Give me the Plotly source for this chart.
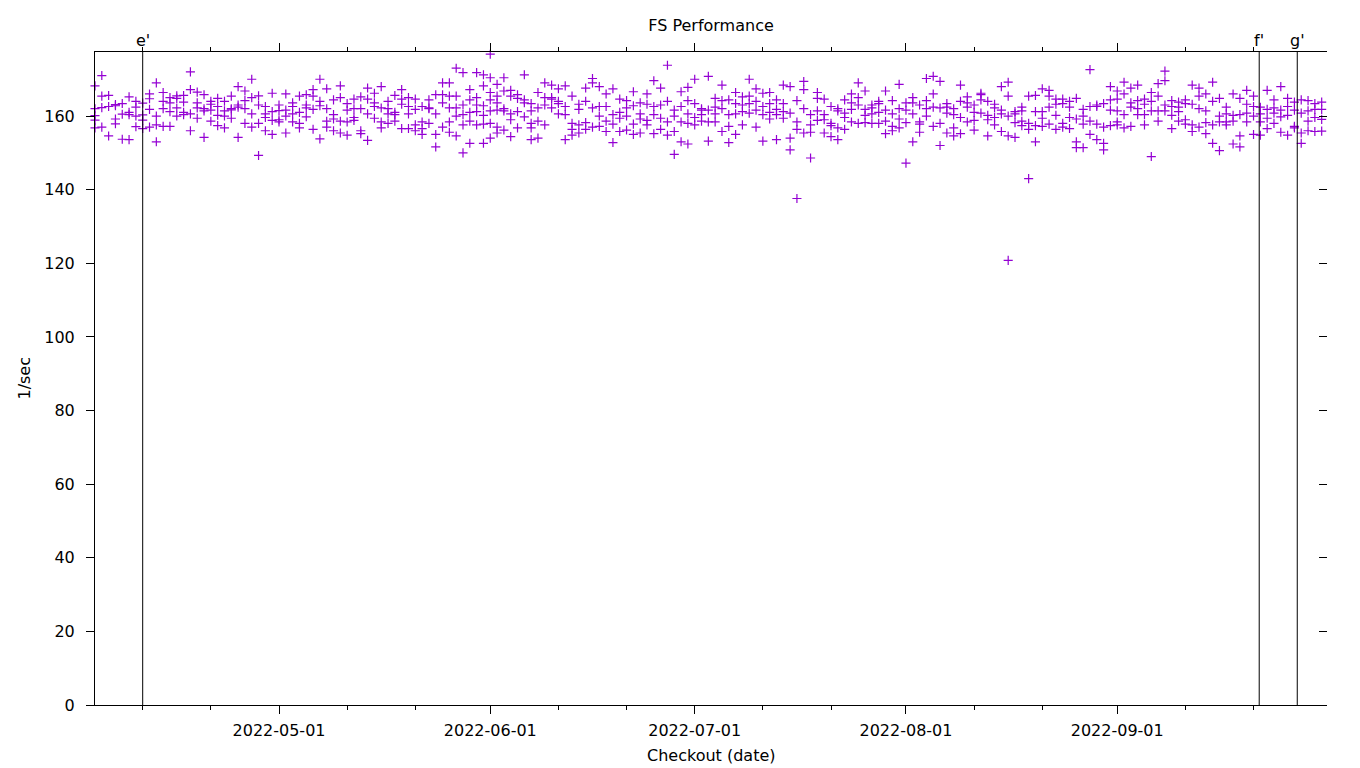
import plotly.graph_objects as go
from datetime import date, timedelta

# ---------------- data (1/sec per checkout, grouped by day) ----------------
first_day = date(2022, 4, 4)

apr = [  # Apr 4 .. Apr 30
    [168.2, 162.0, 160.1, 158.9, 156.8],
    [171.0, 165.4, 162.3, 157.0],
    [165.6, 162.6, 154.6],
    [163.1, 159.2, 157.9, 162.8],
    [163.4, 153.7, 160.5],
    [165.2, 160.4, 153.6, 161.0],
    [162.4, 160.0, 157.1, 164.0],
    [160.3, 156.6, 163.5, 158.9],
    [166.0, 161.8, 157.0, 164.7],
    [169.0, 160.0, 153.0, 157.6],
    [166.4, 164.0, 157.2, 162.0],
    [165.0, 161.2, 157.2, 163.6],
    [164.8, 160.0, 165.5, 162.2],
    [165.6, 160.4, 163.8, 161.0],
    [172.0, 167.2, 160.6, 156.0],
    [166.5, 162.2, 159.4, 163.6],
    [165.8, 162.0, 154.2, 161.4],
    [164.0, 158.6, 163.2, 161.6],
    [164.8, 162.6, 157.4, 160.2],
    [164.0, 161.4, 156.8, 160.0],
    [165.4, 162.0, 161.7, 159.4],
    [168.0, 163.0, 154.2, 162.4],
    [166.8, 164.2, 158.0, 162.0],
    [170.0, 165.0, 160.6, 157.0],
    [165.5, 158.0, 149.3, 163.0],
    [162.6, 156.0, 159.6, 160.6],
    [166.2, 158.8, 155.0, 161.2],
]

may = [
    [161.5, 158.4, 163.0, 159.0],
    [166.0, 161.6, 155.4, 160.0],
    [163.6, 160.6, 158.4, 162.6],
    [165.4, 161.0, 156.8, 158.0],
    [165.8, 163.0, 159.8, 162.2],
    [167.2, 165.4, 161.8, 156.4],
    [170.0, 162.8, 153.8, 164.0],
    [167.4, 162.0, 158.6, 157.0],
    [164.4, 160.4, 156.0, 159.2],
    [168.2, 165.0, 158.6, 155.4],
    [163.4, 161.6, 154.8, 158.4],
    [164.6, 159.6, 158.8, 162.0],
    [165.2, 155.2, 162.0, 156.0],
    [167.6, 164.6, 160.6, 153.4],
    [166.2, 162.6, 159.4, 163.6],
    [168.0, 162.2, 158.4, 156.8],
    [162.0, 158.0, 164.0, 160.6],
    [161.0, 160.4, 165.6, 158.6],
    [167.2, 163.2, 156.6, 164.6],
    [160.6, 156.6, 162.6, 165.0],
    [164.6, 161.8, 157.6, 156.0],
    [162.6, 156.6, 158.4, 155.0],
    [164.4, 162.0, 162.2, 158.0],
    [165.8, 155.0, 151.6, 160.6],
    [169.0, 163.6, 157.0, 165.8],
    [169.0, 162.2, 155.6, 158.4, 165.4],
    [173.0, 165.4, 160.0, 154.6, 162.2],
    [171.8, 163.0, 157.6, 150.0, 160.4],
    [167.2, 164.4, 161.0, 152.6, 158.6],
    [171.8, 165.0, 161.2, 157.6, 163.0],
    [171.2, 168.2, 162.8, 157.8, 152.6, 160.2],
]

jun = [
    [176.8, 170.4, 166.4, 161.4, 158.0, 154.0, 164.4],
    [168.6, 165.4, 161.6, 157.0, 163.6, 155.4],
    [170.4, 166.8, 161.4, 156.2, 162.0],
    [167.0, 160.6, 154.4, 165.4, 159.0],
    [164.8, 161.2, 156.8, 165.8],
    [171.2, 163.6, 159.8, 164.4],
    [163.4, 158.0, 153.6, 161.4, 156.8],
    [166.4, 162.2, 154.0, 158.6],
    [169.0, 165.0, 163.0, 157.6],
    [168.4, 164.6, 162.2, 165.0],
    [167.4, 164.0, 160.6, 163.4],
    [168.2, 160.4, 153.6, 162.6],
    [165.4, 158.0, 154.8, 156.4],
    [163.2, 161.8, 157.6, 155.4],
    [167.6, 164.0, 158.2, 156.4],
    [170.2, 169.0, 162.2, 157.0],
    [168.0, 160.0, 157.2, 162.6],
    [166.0, 162.6, 155.8, 158.6],
    [167.4, 160.4, 152.8, 157.8],
    [164.6, 161.0, 155.8, 159.4],
    [164.2, 160.0, 156.2, 162.2],
    [166.6, 162.8, 155.0, 157.8],
    [163.6, 159.2, 155.4, 160.6],
    [166.0, 163.2, 157.6, 158.8],
    [169.6, 162.6, 155.2, 160.4],
    [167.6, 163.0, 156.4, 159.4],
    [173.8, 164.0, 158.4, 154.8],
    [161.6, 160.0, 155.8, 149.6],
    [166.6, 162.6, 158.4, 153.0],
    [167.8, 164.2, 158.0, 152.4, 160.6],
]

jul = [
    [170.0, 163.4, 159.6, 157.6],
    [162.0, 160.4, 158.6, 161.6],
    [170.8, 161.6, 153.2, 158.4],
    [164.8, 160.6, 158.4, 162.4],
    [164.2, 162.0, 155.8, 168.4],
    [164.4, 160.4, 157.2, 152.8],
    [163.4, 160.6, 155.0, 166.4],
    [165.2, 161.2, 157.6, 163.0],
    [170.0, 165.4, 160.8, 163.4],
    [167.4, 161.6, 157.0, 164.0],
    [160.4, 153.2, 166.2, 162.6],
    [166.4, 163.4, 161.0, 159.2],
    [164.4, 160.4, 153.6, 161.8],
    [168.4, 163.4, 159.4, 161.2],
    [168.0, 160.8, 154.0, 150.8],
    [164.2, 156.4, 137.6, 158.4],
    [169.4, 167.2, 162.0, 155.4],
    [160.4, 155.6, 148.6, 157.6],
    [166.4, 164.8, 158.8, 161.4],
    [164.6, 159.0, 155.4, 160.4],
    [162.6, 157.4, 154.4, 158.0],
    [162.0, 161.4, 153.6, 156.8],
    [164.4, 159.6, 156.4, 160.8],
    [166.0, 163.6, 158.4, 161.8],
    [169.0, 163.0, 158.0, 165.0],
    [166.8, 161.8, 158.2, 160.2],
    [163.0, 162.2, 160.6, 158.0],
    [164.0, 163.4, 158.0, 161.0],
    [166.8, 161.6, 155.2, 158.6],
    [164.2, 160.6, 156.0, 157.2],
    [168.6, 162.0, 156.8, 159.2],
]

aug = [
    [163.6, 158.2, 147.2, 161.6],
    [165.0, 160.6, 153.0, 163.6],
    [163.0, 158.4, 155.6, 157.8],
    [170.2, 164.2, 160.0, 162.0],
    [170.8, 166.0, 157.2, 162.4],
    [169.4, 158.0, 152.0, 162.2],
    [163.4, 160.8, 155.4, 162.4],
    [162.0, 156.8, 154.6, 160.4],
    [168.4, 164.0, 159.6, 155.2],
    [163.6, 162.4, 158.4, 165.2],
    [163.0, 161.0, 156.2, 158.8],
    [166.2, 165.8, 160.8, 164.4],
    [164.0, 159.0, 154.6, 160.2],
    [163.2, 159.6, 157.6, 162.2],
    [168.0, 160.6, 155.8, 161.6],
    [169.2, 165.4, 160.0, 120.8, 154.6],
    [161.2, 158.2, 154.2, 160.6],
    [162.4, 157.4, 161.4, 158.6],
    [165.4, 158.0, 143.0, 156.4],
    [165.6, 161.2, 153.0, 157.4],
    [167.4, 161.2, 157.2, 159.4],
    [167.0, 162.4, 157.8, 165.4],
    [164.6, 160.2, 156.4, 163.2],
    [163.4, 158.0, 157.0, 164.6],
    [164.0, 159.6, 162.4, 156.6],
    [164.8, 159.2, 151.4, 153.0],
    [161.8, 157.8, 151.4, 160.0],
    [172.6, 162.6, 155.0, 158.6],
    [163.0, 157.8, 153.6, 162.6],
    [163.4, 157.0, 150.8, 152.6],
    [168.0, 164.4, 157.4, 161.6],
]

sep = [
    [164.6, 161.4, 157.6, 166.8, 158.4],
    [169.2, 166.0, 160.4, 156.8],
    [167.6, 162.4, 157.2, 163.6],
    [168.4, 164.2, 160.4, 162.0],
    [164.6, 160.4, 163.2, 157.6],
    [166.4, 161.4, 149.0, 164.0],
    [168.8, 165.4, 161.4, 158.6],
    [172.2, 169.6, 163.0, 161.4],
    [164.2, 160.2, 156.6, 162.6],
    [163.8, 161.2, 158.6, 162.4],
    [164.4, 159.0, 157.8, 163.4],
    [168.4, 163.2, 157.6, 155.8],
    [167.6, 165.4, 157.0, 162.0],
    [166.0, 161.4, 155.2, 158.2],
    [169.2, 164.0, 157.6, 152.6],
    [164.8, 160.0, 150.6, 158.4],
    [162.4, 158.4, 157.6, 160.6],
    [166.0, 160.2, 152.4, 158.6],
    [164.8, 160.4, 154.6, 151.6],
    [167.0, 163.2, 158.4, 160.8],
    [165.4, 160.0, 155.0, 162.6],
    [162.4, 158.4, 154.8, 160.6],
    [167.0, 159.4, 156.6, 161.8],
    [164.4, 160.8, 158.0, 162.2],
    [168.0, 161.6, 155.6, 159.8],
    [162.6, 160.2, 154.8, 164.8],
    [163.8, 161.6, 157.2, 156.8],
    [164.4, 160.8, 152.6, 155.4],
    [164.2, 158.6, 156.0, 161.4],
    [163.4, 159.6, 155.8, 161.8],
]

oct_ = [
    [163.8, 161.8, 159.1, 155.9],
]

event_labels = ["e'", "f'", "g'"]
event_times = ["2022-04-11 00:00", "2022-09-21 20:00", "2022-09-27 10:00"]

major_ticks = ["2022-05-01", "2022-06-01", "2022-07-01", "2022-08-01", "2022-09-01"]
minor_ticks = ["2022-04-11", "2022-04-21", "2022-05-11", "2022-05-21",
               "2022-06-11", "2022-06-21", "2022-07-11", "2022-07-21",
               "2022-08-11", "2022-08-21", "2022-09-11", "2022-09-21"]
y_ticks = [0, 20, 40, 60, 80, 100, 120, 140, 160]

x_range = ["2022-04-04 00:00", "2022-10-01 18:45"]
y_range = [0, 177.4]

# ---------------- build ----------------
days = apr + may + jun + jul + aug + sep + oct_
xs, ys = [], []
for i, vals in enumerate(days):
    d = (first_day + timedelta(days=i)).isoformat()
    for v in vals:
        xs.append(d)
        ys.append(v)

FONT = "DejaVu Sans"
PURPLE = "#9400D3"
W, H = 1352, 760   # page body adds an 8px margin

fig = go.Figure()
fig.add_trace(go.Scatter(
    x=xs, y=ys, mode="markers", cliponaxis=False, showlegend=False,
    marker=dict(symbol="cross-thin", size=6.5, color=PURPLE,
                line=dict(color=PURPLE, width=1.2)),
))
# helper trace for right-side mirrored ticks
fig.add_trace(go.Scatter(x=[x_range[0]], y=[None], yaxis="y2",
                         mode="markers", showlegend=False, hoverinfo="skip"))

for t in event_times:
    fig.add_shape(type="line", xref="x", yref="paper", x0=t, x1=t, y0=0, y1=1,
                  line=dict(color="black", width=1))
for lab, t in zip(event_labels, event_times):
    fig.add_annotation(x=t, xref="x", y=1.018, yref="paper", text=lab,
                       showarrow=False, xanchor="center", yanchor="middle",
                       font=dict(family=FONT, size=16, color="black"))

fig.add_annotation(x=0.5, xref="paper", y=-0.0766, yref="paper",
                   text="Checkout (date)", showarrow=False,
                   xanchor="center", yanchor="middle",
                   font=dict(family=FONT, size=16, color="black"))
fig.add_annotation(x=-0.0576, xref="paper", y=0.5, yref="paper",
                   text="1/sec", textangle=-90, showarrow=False,
                   xanchor="center", yanchor="middle",
                   font=dict(family=FONT, size=16, color="black"))

fig.update_layout(
    width=W, height=H,
    margin=dict(l=87, r=33, t=44, b=63),
    paper_bgcolor="white", plot_bgcolor="white",
    font=dict(family=FONT, size=16, color="black"),
    title=dict(text="FS Performance", x=0.5, xref="paper",
               y=1 - 17 / H, yref="container", yanchor="middle",
               xanchor="center",
               font=dict(family=FONT, size=16, color="black")),
    xaxis=dict(
        type="date", range=x_range,
        tickmode="array", tickvals=major_ticks, ticktext=major_ticks,
        ticks="outside", ticklen=8, tickwidth=1, tickcolor="black",
        showline=True, linecolor="black", linewidth=1, mirror="ticks",
        showgrid=False, zeroline=False, ticklabelstandoff=3,
        minor=dict(tickmode="array", tickvals=minor_ticks, ticks="outside",
                   ticklen=4, tickwidth=1, tickcolor="black", showgrid=False),
    ),
    yaxis=dict(
        range=y_range, tickmode="array", tickvals=y_ticks,
        ticks="outside", ticklen=8, tickwidth=1, tickcolor="black",
        showline=True, linecolor="black", linewidth=1,
        showgrid=False, zeroline=False, ticklabelstandoff=8,
    ),
    yaxis2=dict(
        overlaying="y", side="right", range=y_range,
        tickmode="array", tickvals=y_ticks,
        ticks="inside", ticklen=8, tickwidth=1, tickcolor="black",
        showticklabels=False, showline=False, showgrid=False, zeroline=False,
    ),
)

fig.write_html("out.html")
